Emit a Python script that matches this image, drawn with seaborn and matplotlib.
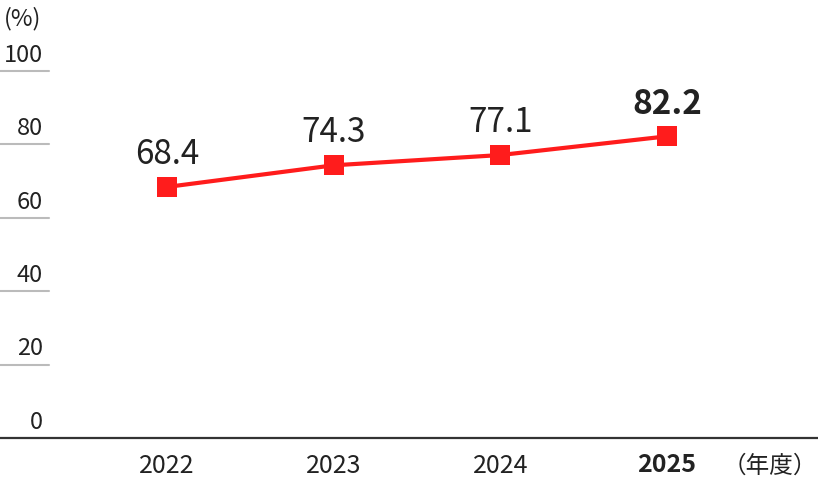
import matplotlib
matplotlib.use("Agg")
import matplotlib.pyplot as plt
import matplotlib.transforms as mtransforms
import pandas as pd
import seaborn as sns

years = ["2022", "2023", "2024", "2025"]
rates = [68.4, 74.3, 77.1, 82.2]
y_ticks = [0, 20, 40, 60, 80, 100]

sns.set_style("white")
plt.rcParams['font.family'] = ['Noto Sans CJK JP', 'DejaVu Sans']

RED = "#ff1c1c"
TEXT = "#222222"

df = pd.DataFrame({"pos": range(len(years)), "year": years, "rate": rates})

fig = plt.figure(figsize=(8.18, 4.9), dpi=100)
ax = fig.add_axes([0, 52 / 490, 1, (438 - 71) / 490])

sns.lineplot(data=df, x="pos", y="rate", ax=ax, color=RED, lw=3,
             marker="s", markersize=14, markeredgewidth=0, markerfacecolor=RED)

ax.set_xlim(-1.0, 3.905)
ax.set_ylim(0, 100)
for s in ["top", "right", "left"]:
    ax.spines[s].set_visible(False)
ax.spines["bottom"].set_color("#333333")
ax.spines["bottom"].set_linewidth(1.6)
ax.set_xlabel("")
ax.set_ylabel("")
ax.set_yticks([])
ax.set_xticks(df["pos"])
ax.set_xticklabels(years, fontsize=18, color=TEXT)
ax.tick_params(axis="x", length=0, pad=11)
ax.get_xticklabels()[-1].set_fontweight("bold")

# short gridlines at left with labels above them
trans = mtransforms.blended_transform_factory(fig.transFigure, ax.transData)
for t in y_ticks[1:]:
    ax.plot([0, 49 / 818], [t, t], transform=trans, color="#bbbbbb", lw=1.5,
            clip_on=False)
for t in y_ticks:
    ax.annotate(str(t), xy=(43 / 818, t), xycoords=trans, xytext=(0, 3),
                textcoords="offset points", ha="right", va="bottom",
                fontsize=17, color=TEXT)

# value labels
for i, (x, v) in enumerate(zip(df["pos"], rates)):
    ax.annotate(f"{v}", xy=(x, v), xytext=(0, 11), textcoords="offset points",
                ha="center", va="bottom", fontsize=24, color=TEXT,
                fontweight="bold" if i == len(rates) - 1 else "normal")

fig.text(4 / 818, 1 - 19 / 490, "(%)", ha="left", va="center", fontsize=17, color=TEXT)
fig.text(817 / 818, 1 - 466 / 490, "（年度）", ha="right", va="center", fontsize=17, color=TEXT)

fig.savefig("out.png", dpi=100)
